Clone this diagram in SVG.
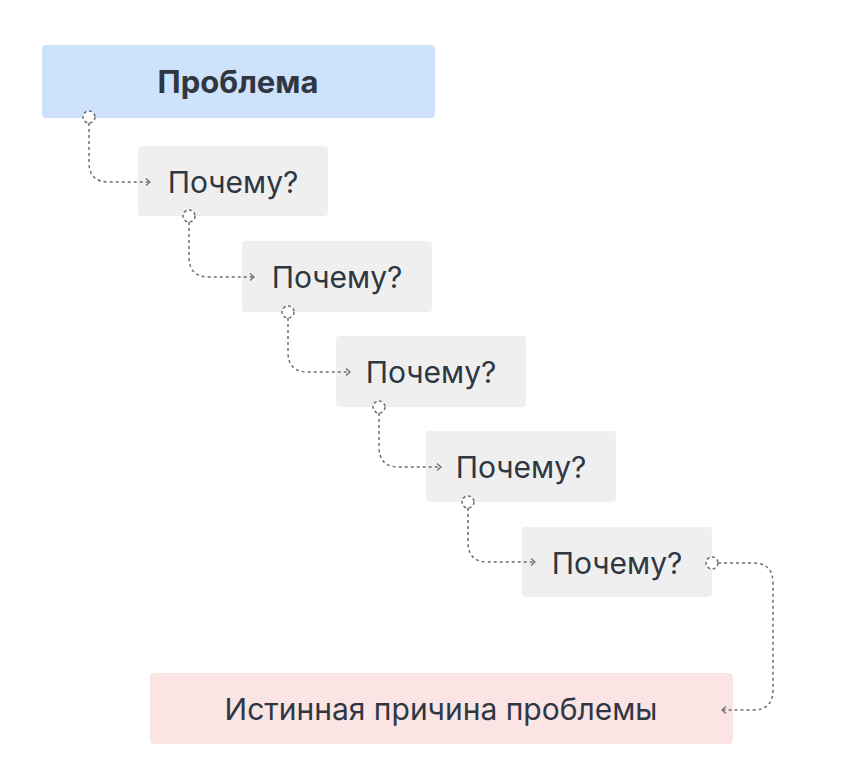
<svg xmlns="http://www.w3.org/2000/svg" width="842" height="770" viewBox="0 0 842 770">
<style>
.t{font-family:Inter,"Noto Sans","Liberation Sans",sans-serif;font-size:30px;fill:#2e3742;text-anchor:middle}
.b{font-weight:700;font-size:31px}
.c{fill:none;stroke:#6f6f6f;stroke-width:1.5;stroke-dasharray:3 3}
.d{fill:#fff;stroke:#6f6f6f;stroke-width:1.5;stroke-dasharray:3 2.5}
.g{fill:#efefef}
</style>
<defs>
<marker id="a" markerWidth="10" markerHeight="10" refX="8" refY="5" orient="auto" markerUnits="userSpaceOnUse">
<path d="M4,1.5 L8,5 L4,8.5" fill="none" stroke="#6f6f6f" stroke-width="1.3"/>
</marker>
</defs>
<rect width="842" height="770" fill="#fff"/>
<g id="problem"><rect x="42" y="45" width="393" height="73" rx="4" fill="#cfe2fb"/><text class="t b" x="238" y="93">Проблема</text></g>
<g id="why1"><rect class="g" x="138" y="146" width="190" height="70" rx="4"/><text class="t" x="233" y="193">Почему?</text></g>
<g id="why2"><rect class="g" x="242" y="241" width="190" height="71" rx="4"/><text class="t" x="337" y="288">Почему?</text></g>
<g id="why3"><rect class="g" x="336" y="336" width="190" height="71" rx="4"/><text class="t" x="431" y="383">Почему?</text></g>
<g id="why4"><rect class="g" x="426" y="431" width="190" height="71" rx="4"/><text class="t" x="521" y="478">Почему?</text></g>
<g id="why5"><rect class="g" x="522" y="527" width="190" height="70" rx="4"/><text class="t" x="617" y="574">Почему?</text></g>
<g id="root"><rect x="150" y="673" width="583" height="71" rx="4" fill="#fbe4e4"/><text class="t" x="441" y="720">Истинная причина проблемы</text></g>
<g id="connectors">
<path class="c" marker-end="url(#a)" d="M89,123 V162 Q89,182 109,182 H150"/>
<path class="c" marker-end="url(#a)" d="M189,222 V257 Q189,277 209,277 H254"/>
<path class="c" marker-end="url(#a)" d="M288,318 V352 Q288,372 308,372 H350"/>
<path class="c" marker-end="url(#a)" d="M379,413 V447 Q379,467 399,467 H441"/>
<path class="c" marker-end="url(#a)" d="M468,508 V542 Q468,562 488,562 H535"/>
<path class="c" marker-end="url(#a)" d="M718,563 H753 Q773,563 773,583 V690 Q773,710 753,710 H722"/>
<circle class="d" cx="89" cy="117" r="6"/>
<circle class="d" cx="189" cy="216" r="6"/>
<circle class="d" cx="288" cy="312" r="6"/>
<circle class="d" cx="379" cy="407" r="6"/>
<circle class="d" cx="468" cy="502" r="6"/>
<circle class="d" cx="712" cy="563" r="6"/>
</g>
</svg>
